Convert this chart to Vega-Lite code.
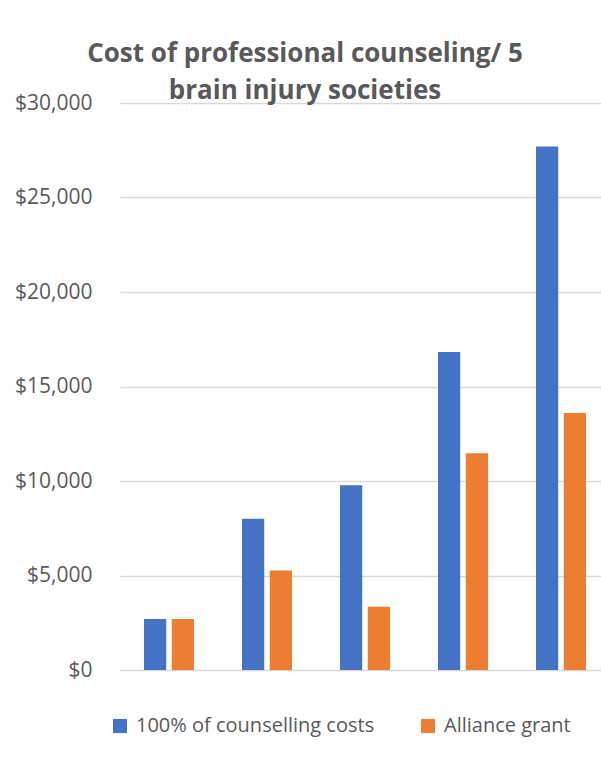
{
  "$schema": "https://vega.github.io/schema/vega-lite/v6.json",
  "width": 490,
  "height": 567,
  "autosize": {"type": "none"},
  "padding": {"left": 120, "top": 103, "right": 0, "bottom": 111},
  "background": "white",
  "title": {
    "text": ["Cost of professional counseling/ 5", "brain injury societies"],
    "anchor": "middle",
    "frame": "group",
    "dx": -60,
    "offset": -33,
    "baseline": "alphabetic",
    "fontSize": 26,
    "fontWeight": "bold",
    "font": "Open Sans",
    "color": "#595959",
    "lineHeight": 37
  },
  "config": {
    "view": {"stroke": null},
    "font": "Open Sans"
  },
  "data": {
    "values": [
      {"society": "Society 1", "series": "100% of counselling costs", "cost": 2700},
      {"society": "Society 1", "series": "Alliance grant", "cost": 2700},
      {"society": "Society 2", "series": "100% of counselling costs", "cost": 8000},
      {"society": "Society 2", "series": "Alliance grant", "cost": 5270},
      {"society": "Society 3", "series": "100% of counselling costs", "cost": 9770},
      {"society": "Society 3", "series": "Alliance grant", "cost": 3350},
      {"society": "Society 4", "series": "100% of counselling costs", "cost": 16820},
      {"society": "Society 4", "series": "Alliance grant", "cost": 11470},
      {"society": "Society 5", "series": "100% of counselling costs", "cost": 27700},
      {"society": "Society 5", "series": "Alliance grant", "cost": 13600}
    ]
  },
  "mark": {"type": "bar"},
  "encoding": {
    "x": {
      "field": "society",
      "type": "nominal",
      "axis": null,
      "scale": {"paddingInner": 0.49, "paddingOuter": 0.245}
    },
    "xOffset": {
      "field": "series",
      "type": "nominal",
      "scale": {"paddingInner": 0.2}
    },
    "y": {
      "field": "cost",
      "type": "quantitative",
      "scale": {"domain": [0, 30000], "nice": false},
      "axis": {
        "title": null,
        "values": [0, 5000, 10000, 15000, 20000, 25000, 30000],
        "format": "$,.0f",
        "labelFont": "Open Sans",
        "labelFontSize": 21,
        "labelColor": "#595959",
        "ticks": false,
        "domain": false,
        "labelPadding": 28,
        "gridColor": "#D9D9D9",
        "gridWidth": 1.3
      }
    },
    "color": {
      "field": "series",
      "type": "nominal",
      "scale": {
        "domain": ["100% of counselling costs", "Alliance grant"],
        "range": ["#4472C4", "#ED7D31"]
      },
      "legend": {
        "orient": "none",
        "legendX": -10,
        "legendY": 613,
        "direction": "horizontal",
        "title": null,
        "symbolType": "square",
        "symbolSize": 196,
        "symbolStrokeWidth": 0,
        "labelFont": "Open Sans",
        "labelFontSize": 20,
        "labelColor": "#595959",
        "labelOffset": 6,
        "labelLimit": 0,
        "columnPadding": 43
      }
    }
  }
}
